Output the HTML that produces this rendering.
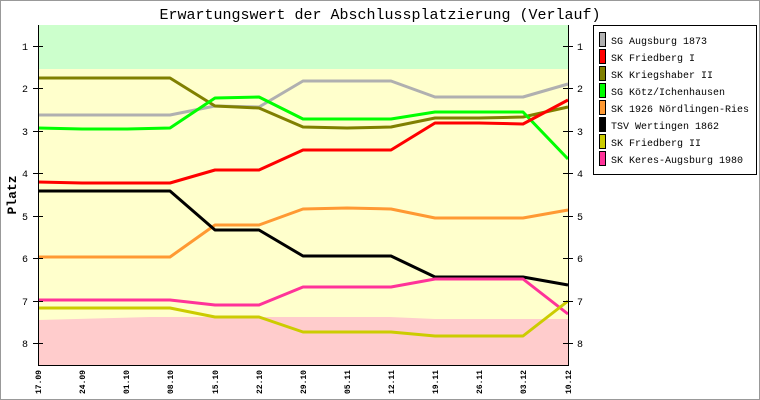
<!DOCTYPE html>
<html><head><meta charset="utf-8"><style>
html,body{margin:0;padding:0;background:#fff}
svg{display:block}
text{font-family:"Liberation Mono","DejaVu Sans Mono",monospace;fill:#000}
</style></head><body>
<svg width="760" height="400" viewBox="0 0 760 400" xmlns="http://www.w3.org/2000/svg">
<rect x="0.5" y="0.5" width="759" height="399" fill="#fff" stroke="#999"/>
<text x="380" y="19" font-size="15" text-anchor="middle">Erwartungswert der Abschlussplatzierung (Verlauf)</text>
<rect x="38" y="25" width="530" height="44" fill="#ccffcc"/>
<rect x="38" y="69" width="530" height="296" fill="#ffffcc"/>
<polygon points="38,320 150,317 390,317 435,319 568,319 568,365 38,365" fill="#ffcccc"/>
<g fill="none" stroke-width="3" stroke-linejoin="round">
<polyline stroke="#b0b0b0" points="38,115 82,115 126,115 170,115 215,106 259,107 303,81 347,81 391,81 435,97 479,97 523,97 568,84"/>
<polyline stroke="#808000" points="38,78 82,78 126,78 170,78 215,106 259,108 303,127 347,128 391,127 435,118 479,118 523,117 568,107"/>
<polyline stroke="#00ff00" points="38,128 82,129 126,129 170,128 215,98 259,97 303,119 347,119 391,119 435,112 479,112 523,112 568,159"/>
<polyline stroke="#ff0000" points="38,182 82,183 126,183 170,183 215,170 259,170 303,150 347,150 391,150 435,123 479,123 523,124 568,100"/>
<polyline stroke="#ff9933" points="38,257 82,257 126,257 170,257 215,225 259,225 303,209 347,208 391,209 435,218 479,218 523,218 568,210"/>
<polyline stroke="#000000" points="38,191 82,191 126,191 170,191 215,230 259,230 303,256 347,256 391,256 435,277 479,277 523,277 568,285"/>
<polyline stroke="#ff3399" points="38,300 82,300 126,300 170,300 215,305 259,305 303,287 347,287 391,287 435,279 479,279 523,279 568,314"/>
<polyline stroke="#cccc00" points="38,308 82,308 126,308 170,308 215,317 259,317 303,332 347,332 391,332 435,336 479,336 523,336 568,301"/>
</g>
<g stroke="#000" stroke-width="1">
<line x1="38.5" y1="25" x2="38.5" y2="365.5"/>
<line x1="568.5" y1="25" x2="568.5" y2="365.5"/>
<line x1="38" y1="365.5" x2="569" y2="365.5"/>
<path d="M33 46.5h10M33 88.5h10M33 131.5h10M33 173.5h10M33 216.5h10M33 258.5h10M33 301.5h10M33 343.5h10"/>
<path d="M563 46.5h10M563 88.5h10M563 131.5h10M563 173.5h10M563 216.5h10M563 258.5h10M563 301.5h10M563 343.5h10"/>
</g>
<g font-size="10" text-anchor="middle">
<text x="25" y="50">1</text><text x="25" y="92">2</text><text x="25" y="135">3</text><text x="25" y="177">4</text><text x="25" y="220">5</text><text x="25" y="262">6</text><text x="25" y="305">7</text><text x="25" y="347">8</text>
<text x="580" y="50">1</text><text x="580" y="92">2</text><text x="580" y="135">3</text><text x="580" y="177">4</text><text x="580" y="220">5</text><text x="580" y="262">6</text><text x="580" y="305">7</text><text x="580" y="347">8</text>
</g>
<text transform="translate(16,195) rotate(-90)" font-size="13" font-weight="bold" text-anchor="middle">Platz</text>
<g font-size="8" font-weight="bold" text-anchor="end">
<text transform="translate(41,370) rotate(-90)">17.09</text>
<text transform="translate(85,370) rotate(-90)">24.09</text>
<text transform="translate(129,370) rotate(-90)">01.10</text>
<text transform="translate(173,370) rotate(-90)">08.10</text>
<text transform="translate(218,370) rotate(-90)">15.10</text>
<text transform="translate(262,370) rotate(-90)">22.10</text>
<text transform="translate(306,370) rotate(-90)">29.10</text>
<text transform="translate(350,370) rotate(-90)">05.11</text>
<text transform="translate(394,370) rotate(-90)">12.11</text>
<text transform="translate(438,370) rotate(-90)">19.11</text>
<text transform="translate(482,370) rotate(-90)">26.11</text>
<text transform="translate(526,370) rotate(-90)">03.12</text>
<text transform="translate(571,370) rotate(-90)">10.12</text>
</g>
<rect x="593.5" y="25.5" width="163" height="149" fill="#fff" stroke="#000"/>
<g stroke="#000" stroke-width="1">
<rect x="599.5" y="32.5" width="6" height="14" fill="#b0b0b0"/>
<rect x="599.5" y="49.5" width="6" height="14" fill="#ff0000"/>
<rect x="599.5" y="66.5" width="6" height="14" fill="#808000"/>
<rect x="599.5" y="83.5" width="6" height="14" fill="#00ff00"/>
<rect x="599.5" y="100.5" width="6" height="14" fill="#ff9933"/>
<rect x="599.5" y="117.5" width="6" height="14" fill="#000000"/>
<rect x="599.5" y="134.5" width="6" height="14" fill="#cccc00"/>
<rect x="599.5" y="151.5" width="6" height="14" fill="#ff3399"/>
</g>
<g font-size="10">
<text x="611" y="44">SG Augsburg 1873</text>
<text x="611" y="61">SK Friedberg I</text>
<text x="611" y="78">SK Kriegshaber II</text>
<text x="611" y="95">SG Kötz/Ichenhausen</text>
<text x="611" y="112">SK 1926 Nördlingen-Ries</text>
<text x="611" y="129">TSV Wertingen 1862</text>
<text x="611" y="146">SK Friedberg II</text>
<text x="611" y="163">SK Keres-Augsburg 1980</text>
</g>
</svg>
</body></html>
